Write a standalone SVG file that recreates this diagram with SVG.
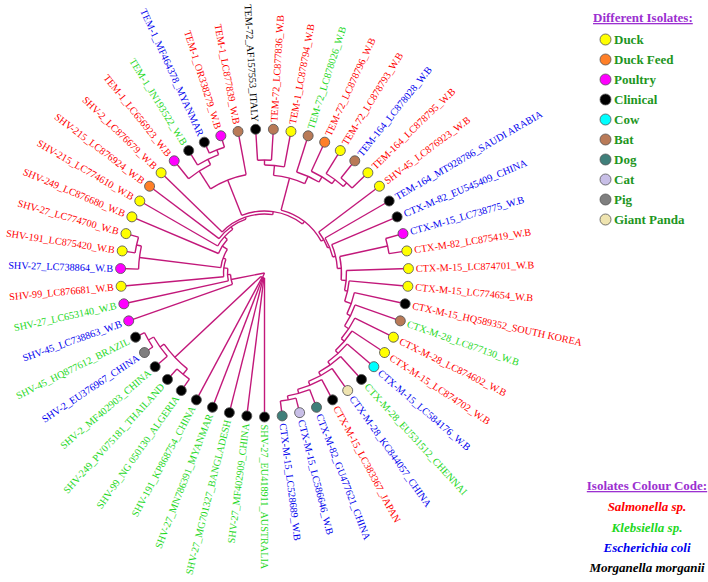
<svg xmlns="http://www.w3.org/2000/svg" width="708" height="582" viewBox="0 0 708 582">
<style>
text{font-family:"Liberation Serif","Times New Roman",serif}
.lb{font-size:10.2px}
.r{fill:#ff0000}.g{fill:#1ed81e}.b{fill:#0000ee}.k{fill:#000}
.br line,.br circle{fill:none;stroke:#c2187a;stroke-width:1.4}
.d{stroke:#555;stroke-width:0.8}
.duck{fill:#ffff00}.feed{fill:#ff7f27}.poul{fill:#ff00ff}.clin{fill:#000}.cow{fill:#00ffff}.bat{fill:#b97a57}.dog{fill:#3f7f7a}.cat{fill:#c8bfe7}.pig{fill:#7f7f7f}.panda{fill:#efe4b0}
.lg{font-size:13px;font-weight:bold;fill:#1e961e}
.tt{font-size:13px;font-weight:bold;fill:#9b30d0;text-decoration:underline}
.it{font-size:13px;font-weight:bold;font-style:italic;text-anchor:middle}
</style>
<rect width="708" height="582" fill="#fff"/>
<g id="connectors" class="br">
<!-- root -->
<line x1="264.5" y1="273" x2="269.5" y2="273" transform="rotate(113.4 264.5 273)"/>
<line x1="264.5" y1="273" x2="298.5" y2="273" transform="rotate(169.01 264.5 273)"/>
<!-- N_A -->
<circle cx="264.5" cy="273" r="5" pathLength="360" stroke-dasharray="46.8 400" transform="rotate(90 264.5 273)"/>
<line x1="269.5" y1="273" x2="408.5" y2="273" transform="rotate(90 264.5 273)"/>
<line x1="269.5" y1="273" x2="408.5" y2="273" transform="rotate(97.059 264.5 273)"/>
<line x1="269.5" y1="273" x2="408.5" y2="273" transform="rotate(104.118 264.5 273)"/>
<line x1="269.5" y1="273" x2="408.5" y2="273" transform="rotate(111.176 264.5 273)"/>
<line x1="269.5" y1="273" x2="408.5" y2="273" transform="rotate(118.235 264.5 273)"/>
<line x1="269.5" y1="273" x2="387.5" y2="273" transform="rotate(136.77 264.5 273)"/>
<!-- N_X -->
<circle cx="264.5" cy="273" r="123" pathLength="360" stroke-dasharray="15.89 400" transform="rotate(128.82 264.5 273)"/>
<line x1="387.5" y1="273" x2="394.5" y2="273" transform="rotate(128.82 264.5 273)"/>
<line x1="387.5" y1="273" x2="392.5" y2="273" transform="rotate(144.71 264.5 273)"/>
<circle cx="264.5" cy="273" r="130" pathLength="360" stroke-dasharray="7.06 400" transform="rotate(125.294 264.5 273)"/>
<line x1="394.5" y1="273" x2="408.5" y2="273" transform="rotate(125.294 264.5 273)"/>
<line x1="394.5" y1="273" x2="408.5" y2="273" transform="rotate(132.353 264.5 273)"/>
<circle cx="264.5" cy="273" r="128" pathLength="360" stroke-dasharray="10.59 400" transform="rotate(139.412 264.5 273)"/>
<line x1="392.5" y1="273" x2="408.5" y2="273" transform="rotate(139.412 264.5 273)"/>
<line x1="392.5" y1="273" x2="398.5" y2="273" transform="rotate(150 264.5 273)"/>
<circle cx="264.5" cy="273" r="134" pathLength="360" stroke-dasharray="7.06 400" transform="rotate(146.471 264.5 273)"/>
<line x1="398.5" y1="273" x2="408.5" y2="273" transform="rotate(146.471 264.5 273)"/>
<line x1="398.5" y1="273" x2="408.5" y2="273" transform="rotate(153.529 264.5 273)"/>
<!-- backbone left -->
<circle cx="264.5" cy="273" r="34" pathLength="360" stroke-dasharray="16.85 400" transform="rotate(160.588 264.5 273)"/>
<line x1="298.5" y1="273" x2="408.5" y2="273" transform="rotate(160.588 264.5 273)"/>
<line x1="298.5" y1="273" x2="301.5" y2="273" transform="rotate(177.44 264.5 273)"/>
<circle cx="264.5" cy="273" r="37" pathLength="360" stroke-dasharray="19.59 400" transform="rotate(167.647 264.5 273)"/>
<line x1="301.5" y1="273" x2="408.5" y2="273" transform="rotate(167.647 264.5 273)"/>
<line x1="301.5" y1="273" x2="305.5" y2="273" transform="rotate(187.24 264.5 273)"/>
<circle cx="264.5" cy="273" r="41" pathLength="360" stroke-dasharray="25.07 400" transform="rotate(174.706 264.5 273)"/>
<line x1="305.5" y1="273" x2="408.5" y2="273" transform="rotate(174.706 264.5 273)"/>
<line x1="305.5" y1="273" x2="308.5" y2="273" transform="rotate(199.78 264.5 273)"/>
<circle cx="264.5" cy="273" r="44" pathLength="360" stroke-dasharray="25.43 400" transform="rotate(187.06 264.5 273)"/>
<line x1="308.5" y1="273" x2="390.5" y2="273" transform="rotate(187.06 264.5 273)"/>
<line x1="308.5" y1="273" x2="314.5" y2="273" transform="rotate(212.49 264.5 273)"/>
<circle cx="264.5" cy="273" r="126" pathLength="360" stroke-dasharray="10.59 400" transform="rotate(181.765 264.5 273)"/>
<line x1="390.5" y1="273" x2="408.5" y2="273" transform="rotate(181.765 264.5 273)"/>
<line x1="390.5" y1="273" x2="395.5" y2="273" transform="rotate(192.35 264.5 273)"/>
<circle cx="264.5" cy="273" r="131" pathLength="360" stroke-dasharray="7.06 400" transform="rotate(188.824 264.5 273)"/>
<line x1="395.5" y1="273" x2="408.5" y2="273" transform="rotate(188.824 264.5 273)"/>
<line x1="395.5" y1="273" x2="408.5" y2="273" transform="rotate(195.882 264.5 273)"/>
<circle cx="264.5" cy="273" r="50" pathLength="360" stroke-dasharray="19.1 400" transform="rotate(202.941 264.5 273)"/>
<line x1="314.5" y1="273" x2="408.5" y2="273" transform="rotate(202.941 264.5 273)"/>
<line x1="314.5" y1="273" x2="318.5" y2="273" transform="rotate(222.04 264.5 273)"/>
<circle cx="264.5" cy="273" r="54" pathLength="360" stroke-dasharray="24.07 400" transform="rotate(210 264.5 273)"/>
<line x1="318.5" y1="273" x2="408.5" y2="273" transform="rotate(210 264.5 273)"/>
<line x1="318.5" y1="273" x2="321.5" y2="273" transform="rotate(234.07 264.5 273)"/>
<circle cx="264.5" cy="273" r="57" pathLength="360" stroke-dasharray="34.02 400" transform="rotate(217.059 264.5 273)"/>
<line x1="321.5" y1="273" x2="408.5" y2="273" transform="rotate(217.059 264.5 273)"/>
<line x1="321.5" y1="273" x2="323.5" y2="273" transform="rotate(251.08 264.5 273)"/>
<circle cx="264.5" cy="273" r="59" pathLength="360" stroke-dasharray="53.93 400" transform="rotate(224.118 264.5 273)"/>
<line x1="323.5" y1="273" x2="408.5" y2="273" transform="rotate(224.118 264.5 273)"/>
<line x1="323.5" y1="273" x2="326.5" y2="273" transform="rotate(278.05 264.5 273)"/>
<!-- N9 + TEM-1 -->
<circle cx="264.5" cy="273" r="62" pathLength="360" stroke-dasharray="59.34 400" transform="rotate(248.38 264.5 273)"/>
<line x1="326.5" y1="273" x2="364.5" y2="273" transform="rotate(248.38 264.5 273)"/>
<line x1="326.5" y1="273" x2="329.5" y2="273" transform="rotate(307.72 264.5 273)"/>
<circle cx="264.5" cy="273" r="100" pathLength="360" stroke-dasharray="22.06 400" transform="rotate(237.35 264.5 273)"/>
<line x1="364.5" y1="273" x2="385.5" y2="273" transform="rotate(237.35 264.5 273)"/>
<line x1="364.5" y1="273" x2="408.5" y2="273" transform="rotate(259.412 264.5 273)"/>
<circle cx="264.5" cy="273" r="121" pathLength="360" stroke-dasharray="12.35 400" transform="rotate(231.176 264.5 273)"/>
<line x1="385.5" y1="273" x2="408.5" y2="273" transform="rotate(231.176 264.5 273)"/>
<line x1="385.5" y1="273" x2="391.5" y2="273" transform="rotate(243.53 264.5 273)"/>
<circle cx="264.5" cy="273" r="127" pathLength="360" stroke-dasharray="10.59 400" transform="rotate(238.235 264.5 273)"/>
<line x1="391.5" y1="273" x2="408.5" y2="273" transform="rotate(238.235 264.5 273)"/>
<line x1="391.5" y1="273" x2="396.5" y2="273" transform="rotate(248.82 264.5 273)"/>
<circle cx="264.5" cy="273" r="132" pathLength="360" stroke-dasharray="7.06 400" transform="rotate(245.294 264.5 273)"/>
<line x1="396.5" y1="273" x2="408.5" y2="273" transform="rotate(245.294 264.5 273)"/>
<line x1="396.5" y1="273" x2="408.5" y2="273" transform="rotate(252.353 264.5 273)"/>
<!-- N10 + TEM-72 -->
<circle cx="264.5" cy="273" r="65" pathLength="360" stroke-dasharray="45.88 400" transform="rotate(284.78 264.5 273)"/>
<line x1="329.5" y1="273" x2="362.5" y2="273" transform="rotate(284.78 264.5 273)"/>
<line x1="329.5" y1="273" x2="332.5" y2="273" transform="rotate(330.66 264.5 273)"/>
<circle cx="264.5" cy="273" r="98" pathLength="360" stroke-dasharray="18.97 400" transform="rotate(275.29 264.5 273)"/>
<line x1="362.5" y1="273" x2="372.5" y2="273" transform="rotate(275.29 264.5 273)"/>
<line x1="362.5" y1="273" x2="370.5" y2="273" transform="rotate(294.26 264.5 273)"/>
<circle cx="264.5" cy="273" r="108" pathLength="360" stroke-dasharray="10.59 400" transform="rotate(270 264.5 273)"/>
<line x1="372.5" y1="273" x2="377.5" y2="273" transform="rotate(270 264.5 273)"/>
<line x1="372.5" y1="273" x2="408.5" y2="273" transform="rotate(280.588 264.5 273)"/>
<circle cx="264.5" cy="273" r="113" pathLength="360" stroke-dasharray="7.06 400" transform="rotate(266.471 264.5 273)"/>
<line x1="377.5" y1="273" x2="408.5" y2="273" transform="rotate(266.471 264.5 273)"/>
<line x1="377.5" y1="273" x2="408.5" y2="273" transform="rotate(273.529 264.5 273)"/>
<circle cx="264.5" cy="273" r="106" pathLength="360" stroke-dasharray="13.23 400" transform="rotate(287.647 264.5 273)"/>
<line x1="370.5" y1="273" x2="408.5" y2="273" transform="rotate(287.647 264.5 273)"/>
<line x1="370.5" y1="273" x2="376.5" y2="273" transform="rotate(300.88 264.5 273)"/>
<circle cx="264.5" cy="273" r="112" pathLength="360" stroke-dasharray="12.35 400" transform="rotate(294.706 264.5 273)"/>
<line x1="376.5" y1="273" x2="408.5" y2="273" transform="rotate(294.706 264.5 273)"/>
<line x1="376.5" y1="273" x2="381.5" y2="273" transform="rotate(307.06 264.5 273)"/>
<circle cx="264.5" cy="273" r="117" pathLength="360" stroke-dasharray="10.59 400" transform="rotate(301.765 264.5 273)"/>
<line x1="381.5" y1="273" x2="408.5" y2="273" transform="rotate(301.765 264.5 273)"/>
<line x1="381.5" y1="273" x2="386.5" y2="273" transform="rotate(312.35 264.5 273)"/>
<circle cx="264.5" cy="273" r="122" pathLength="360" stroke-dasharray="7.06 400" transform="rotate(308.824 264.5 273)"/>
<line x1="386.5" y1="273" x2="408.5" y2="273" transform="rotate(308.824 264.5 273)"/>
<line x1="386.5" y1="273" x2="408.5" y2="273" transform="rotate(315.882 264.5 273)"/>
<!-- backbone right -->
<circle cx="264.5" cy="273" r="68" pathLength="360" stroke-dasharray="15.44 400" transform="rotate(322.941 264.5 273)"/>
<line x1="332.5" y1="273" x2="408.5" y2="273" transform="rotate(322.941 264.5 273)"/>
<line x1="332.5" y1="273" x2="334.5" y2="273" transform="rotate(338.38 264.5 273)"/>
<circle cx="264.5" cy="273" r="70" pathLength="360" stroke-dasharray="16.76 400" transform="rotate(330 264.5 273)"/>
<line x1="334.5" y1="273" x2="408.5" y2="273" transform="rotate(330 264.5 273)"/>
<line x1="334.5" y1="273" x2="337.5" y2="273" transform="rotate(346.76 264.5 273)"/>
<circle cx="264.5" cy="273" r="73" pathLength="360" stroke-dasharray="19.41 400" transform="rotate(337.059 264.5 273)"/>
<line x1="337.5" y1="273" x2="408.5" y2="273" transform="rotate(337.059 264.5 273)"/>
<line x1="337.5" y1="273" x2="341.5" y2="273" transform="rotate(356.47 264.5 273)"/>
<circle cx="264.5" cy="273" r="77" pathLength="360" stroke-dasharray="17.64 400" transform="rotate(347.647 264.5 273)"/>
<line x1="341.5" y1="273" x2="390.5" y2="273" transform="rotate(347.647 264.5 273)"/>
<line x1="341.5" y1="273" x2="346.5" y2="273" transform="rotate(365.29 264.5 273)"/>
<circle cx="264.5" cy="273" r="126" pathLength="360" stroke-dasharray="7.06 400" transform="rotate(344.118 264.5 273)"/>
<line x1="390.5" y1="273" x2="408.5" y2="273" transform="rotate(344.118 264.5 273)"/>
<line x1="390.5" y1="273" x2="408.5" y2="273" transform="rotate(351.176 264.5 273)"/>
<circle cx="264.5" cy="273" r="82" pathLength="360" stroke-dasharray="14.12 400" transform="rotate(358.235 264.5 273)"/>
<line x1="346.5" y1="273" x2="408.5" y2="273" transform="rotate(358.235 264.5 273)"/>
<line x1="346.5" y1="273" x2="349.5" y2="273" transform="rotate(372.35 264.5 273)"/>
<circle cx="264.5" cy="273" r="85" pathLength="360" stroke-dasharray="14.12 400" transform="rotate(365.294 264.5 273)"/>
<line x1="349.5" y1="273" x2="408.5" y2="273" transform="rotate(365.294 264.5 273)"/>
<line x1="349.5" y1="273" x2="356.5" y2="273" transform="rotate(379.41 264.5 273)"/>
<circle cx="264.5" cy="273" r="92" pathLength="360" stroke-dasharray="14.11 400" transform="rotate(372.353 264.5 273)"/>
<line x1="356.5" y1="273" x2="408.5" y2="273" transform="rotate(372.353 264.5 273)"/>
<line x1="356.5" y1="273" x2="360.5" y2="273" transform="rotate(386.46 264.5 273)"/>
<circle cx="264.5" cy="273" r="96" pathLength="360" stroke-dasharray="14.09 400" transform="rotate(379.412 264.5 273)"/>
<line x1="360.5" y1="273" x2="408.5" y2="273" transform="rotate(379.412 264.5 273)"/>
<line x1="360.5" y1="273" x2="365.5" y2="273" transform="rotate(393.5 264.5 273)"/>
<circle cx="264.5" cy="273" r="101" pathLength="360" stroke-dasharray="14.06 400" transform="rotate(386.471 264.5 273)"/>
<line x1="365.5" y1="273" x2="408.5" y2="273" transform="rotate(386.471 264.5 273)"/>
<line x1="365.5" y1="273" x2="369.5" y2="273" transform="rotate(400.53 264.5 273)"/>
<circle cx="264.5" cy="273" r="105" pathLength="360" stroke-dasharray="14 400" transform="rotate(393.529 264.5 273)"/>
<line x1="369.5" y1="273" x2="408.5" y2="273" transform="rotate(393.529 264.5 273)"/>
<line x1="369.5" y1="273" x2="373.5" y2="273" transform="rotate(407.53 264.5 273)"/>
<circle cx="264.5" cy="273" r="109" pathLength="360" stroke-dasharray="13.89 400" transform="rotate(400.588 264.5 273)"/>
<line x1="373.5" y1="273" x2="408.5" y2="273" transform="rotate(400.588 264.5 273)"/>
<line x1="373.5" y1="273" x2="377.5" y2="273" transform="rotate(414.48 264.5 273)"/>
<circle cx="264.5" cy="273" r="113" pathLength="360" stroke-dasharray="13.67 400" transform="rotate(407.647 264.5 273)"/>
<line x1="377.5" y1="273" x2="408.5" y2="273" transform="rotate(407.647 264.5 273)"/>
<line x1="377.5" y1="273" x2="381.5" y2="273" transform="rotate(421.32 264.5 273)"/>
<circle cx="264.5" cy="273" r="117" pathLength="360" stroke-dasharray="13.23 400" transform="rotate(414.706 264.5 273)"/>
<line x1="381.5" y1="273" x2="408.5" y2="273" transform="rotate(414.706 264.5 273)"/>
<line x1="381.5" y1="273" x2="385.5" y2="273" transform="rotate(427.94 264.5 273)"/>
<circle cx="264.5" cy="273" r="121" pathLength="360" stroke-dasharray="12.36 400" transform="rotate(421.765 264.5 273)"/>
<line x1="385.5" y1="273" x2="408.5" y2="273" transform="rotate(421.765 264.5 273)"/>
<line x1="385.5" y1="273" x2="389.5" y2="273" transform="rotate(434.12 264.5 273)"/>
<circle cx="264.5" cy="273" r="125" pathLength="360" stroke-dasharray="10.59 400" transform="rotate(428.824 264.5 273)"/>
<line x1="389.5" y1="273" x2="408.5" y2="273" transform="rotate(428.824 264.5 273)"/>
<line x1="389.5" y1="273" x2="393.5" y2="273" transform="rotate(439.41 264.5 273)"/>
<circle cx="264.5" cy="273" r="129" pathLength="360" stroke-dasharray="7.06 400" transform="rotate(435.882 264.5 273)"/>
<line x1="393.5" y1="273" x2="408.5" y2="273" transform="rotate(435.882 264.5 273)"/>
<line x1="393.5" y1="273" x2="408.5" y2="273" transform="rotate(442.941 264.5 273)"/>
</g>
<g id="leaves" class="lb">
<g id="L1" transform="rotate(90 264.5 273)"><circle class="d clin" cx="408.5" cy="273" r="5"/><text class="g" x="416" y="273" dy=".35em">SHV-27_EU418911_AUSTRALIA</text></g>
<g id="L2" transform="rotate(97.059 264.5 273)"><circle class="d clin" cx="408.5" cy="273" r="5"/><text class="g" x="416" y="273" dy=".35em" text-anchor="end" transform="rotate(180 416 273)">SHV-27_MF402909_CHINA</text></g>
<g id="L3" transform="rotate(104.118 264.5 273)"><circle class="d clin" cx="408.5" cy="273" r="5"/><text class="g" x="416" y="273" dy=".35em" text-anchor="end" transform="rotate(180 416 273)">SHV-27_MG701327_BANGLADESH</text></g>
<g id="L4" transform="rotate(111.176 264.5 273)"><circle class="d clin" cx="408.5" cy="273" r="5"/><text class="g" x="416" y="273" dy=".35em" text-anchor="end" transform="rotate(180 416 273)">SHV-27_MN786391_MYANMAR</text></g>
<g id="L5" transform="rotate(118.235 264.5 273)"><circle class="d clin" cx="408.5" cy="273" r="5"/><text class="g" x="416" y="273" dy=".35em" text-anchor="end" transform="rotate(180 416 273)">SHV-191_KP868754_CHINA</text></g>
<g id="L6" transform="rotate(125.294 264.5 273)"><circle class="d clin" cx="408.5" cy="273" r="5"/><text class="g" x="416" y="273" dy=".35em" text-anchor="end" transform="rotate(180 416 273)">SHV-99_NG 050130_ALGERIA</text></g>
<g id="L7" transform="rotate(132.353 264.5 273)"><circle class="d clin" cx="408.5" cy="273" r="5"/><text class="g" x="416" y="273" dy=".35em" text-anchor="end" transform="rotate(180 416 273)">SHV-249_PV075181_THAILAND</text></g>
<g id="L8" transform="rotate(139.412 264.5 273)"><circle class="d clin" cx="408.5" cy="273" r="5"/><text class="g" x="416" y="273" dy=".35em" text-anchor="end" transform="rotate(180 416 273)">SHV-2_MF402903_CHINA</text></g>
<g id="L9" transform="rotate(146.471 264.5 273)"><circle class="d pig" cx="408.5" cy="273" r="5"/><text class="b" x="416" y="273" dy=".35em" text-anchor="end" transform="rotate(180 416 273)">SHV-2_EU376967_CHINA</text></g>
<g id="L10" transform="rotate(153.529 264.5 273)"><circle class="d clin" cx="408.5" cy="273" r="5"/><text class="g" x="416" y="273" dy=".35em" text-anchor="end" transform="rotate(180 416 273)">SHV-45_HQ877612_BRAZIL</text></g>
<g id="L11" transform="rotate(160.588 264.5 273)"><circle class="d poul" cx="408.5" cy="273" r="5"/><text class="b" x="416" y="273" dy=".35em" text-anchor="end" transform="rotate(180 416 273)">SHV-45_LC738863_W.B</text></g>
<g id="L12" transform="rotate(167.647 264.5 273)"><circle class="d poul" cx="408.5" cy="273" r="5"/><text class="g" x="416" y="273" dy=".35em" text-anchor="end" transform="rotate(180 416 273)">SHV-27_LC653140_W.B</text></g>
<g id="L13" transform="rotate(174.706 264.5 273)"><circle class="d duck" cx="408.5" cy="273" r="5"/><text class="r" x="416" y="273" dy=".35em" text-anchor="end" transform="rotate(180 416 273)">SHV-99_LC876681_W.B</text></g>
<g id="L14" transform="rotate(181.765 264.5 273)"><circle class="d poul" cx="408.5" cy="273" r="5"/><text class="b" x="416" y="273" dy=".35em" text-anchor="end" transform="rotate(180 416 273)">SHV-27_LC738864_W.B</text></g>
<g id="L15" transform="rotate(188.824 264.5 273)"><circle class="d duck" cx="408.5" cy="273" r="5"/><text class="r" x="416" y="273" dy=".35em" text-anchor="end" transform="rotate(180 416 273)">SHV-191_LC875420_W.B</text></g>
<g id="L16" transform="rotate(195.882 264.5 273)"><circle class="d duck" cx="408.5" cy="273" r="5"/><text class="r" x="416" y="273" dy=".35em" text-anchor="end" transform="rotate(180 416 273)">SHV-27_LC774700_W.B</text></g>
<g id="L17" transform="rotate(202.941 264.5 273)"><circle class="d duck" cx="408.5" cy="273" r="5"/><text class="r" x="416" y="273" dy=".35em" text-anchor="end" transform="rotate(180 416 273)">SHV-249_LC876680_W.B</text></g>
<g id="L18" transform="rotate(210 264.5 273)"><circle class="d duck" cx="408.5" cy="273" r="5"/><text class="r" x="416" y="273" dy=".35em" text-anchor="end" transform="rotate(180 416 273)">SHV-215_LC774610_W.B</text></g>
<g id="L19" transform="rotate(217.059 264.5 273)"><circle class="d feed" cx="408.5" cy="273" r="5"/><text class="r" x="416" y="273" dy=".35em" text-anchor="end" transform="rotate(180 416 273)">SHV-215_LC876924_W.B</text></g>
<g id="L20" transform="rotate(224.118 264.5 273)"><circle class="d duck" cx="408.5" cy="273" r="5"/><text class="r" x="416" y="273" dy=".35em" text-anchor="end" transform="rotate(180 416 273)">SHV-2_LC876679_W.B</text></g>
<g id="L21" transform="rotate(231.176 264.5 273)"><circle class="d poul" cx="408.5" cy="273" r="5"/><text class="r" x="416" y="273" dy=".35em" text-anchor="end" transform="rotate(180 416 273)">TEM-1_LC656923_W.B</text></g>
<g id="L22" transform="rotate(238.235 264.5 273)"><circle class="d clin" cx="408.5" cy="273" r="5"/><text class="g" x="416" y="273" dy=".35em" text-anchor="end" transform="rotate(180 416 273)">TEM-1_JN193522_W.B</text></g>
<g id="L23" transform="rotate(245.294 264.5 273)"><circle class="d clin" cx="408.5" cy="273" r="5"/><text class="b" x="416" y="273" dy=".35em" text-anchor="end" transform="rotate(180 416 273)">TEM-1_MF464378_MYANMAR</text></g>
<g id="L24" transform="rotate(252.353 264.5 273)"><circle class="d poul" cx="408.5" cy="273" r="5"/><text class="r" x="416" y="273" dy=".35em" text-anchor="end" transform="rotate(180 416 273)">TEM-1_OR338279_W.B</text></g>
<g id="L25" transform="rotate(259.412 264.5 273)"><circle class="d bat" cx="408.5" cy="273" r="5"/><text class="r" x="416" y="273" dy=".35em" text-anchor="end" transform="rotate(180 416 273)">TEM-1_LC877839_W.B</text></g>
<g id="L26" transform="rotate(266.471 264.5 273)"><circle class="d clin" cx="408.5" cy="273" r="5"/><text class="k" x="416" y="273" dy=".35em" text-anchor="end" transform="rotate(180 416 273)">TEM-72_AF157553_ITALY</text></g>
<g id="L27" transform="rotate(273.529 264.5 273)"><circle class="d bat" cx="408.5" cy="273" r="5"/><text class="r" x="416" y="273" dy=".35em">TEM-72_LC877836_W.B</text></g>
<g id="L28" transform="rotate(280.588 264.5 273)"><circle class="d duck" cx="408.5" cy="273" r="5"/><text class="r" x="416" y="273" dy=".35em">TEM-1_LC878794_W.B</text></g>
<g id="L29" transform="rotate(287.647 264.5 273)"><circle class="d bat" cx="408.5" cy="273" r="5"/><text class="g" x="416" y="273" dy=".35em">TEM-72_LC878026_W.B</text></g>
<g id="L30" transform="rotate(294.706 264.5 273)"><circle class="d feed" cx="408.5" cy="273" r="5"/><text class="r" x="416" y="273" dy=".35em">TEM-72_LC878796_W.B</text></g>
<g id="L31" transform="rotate(301.765 264.5 273)"><circle class="d duck" cx="408.5" cy="273" r="5"/><text class="r" x="416" y="273" dy=".35em">TEM-72_LC878793_W.B</text></g>
<g id="L32" transform="rotate(308.824 264.5 273)"><circle class="d bat" cx="408.5" cy="273" r="5"/><text class="b" x="416" y="273" dy=".35em">TEM-164_LC878028_W.B</text></g>
<g id="L33" transform="rotate(315.882 264.5 273)"><circle class="d duck" cx="408.5" cy="273" r="5"/><text class="r" x="416" y="273" dy=".35em">TEM-164_LC878795_W.B</text></g>
<g id="L34" transform="rotate(322.941 264.5 273)"><circle class="d duck" cx="408.5" cy="273" r="5"/><text class="r" x="416" y="273" dy=".35em">SHV-45_LC876923_W.B</text></g>
<g id="L35" transform="rotate(330 264.5 273)"><circle class="d clin" cx="408.5" cy="273" r="5"/><text class="b" x="416" y="273" dy=".35em">TEM-164_MT928786_SAUDI ARABIA</text></g>
<g id="L36" transform="rotate(337.059 264.5 273)"><circle class="d clin" cx="408.5" cy="273" r="5"/><text class="b" x="416" y="273" dy=".35em">CTX-M-82_EU545409_CHINA</text></g>
<g id="L37" transform="rotate(344.118 264.5 273)"><circle class="d poul" cx="408.5" cy="273" r="5"/><text class="b" x="416" y="273" dy=".35em">CTX-M-15_LC738775_W.B</text></g>
<g id="L38" transform="rotate(351.176 264.5 273)"><circle class="d duck" cx="408.5" cy="273" r="5"/><text class="r" x="416" y="273" dy=".35em">CTX-M-82_LC875419_W.B</text></g>
<g id="L39" transform="rotate(358.235 264.5 273)"><circle class="d duck" cx="408.5" cy="273" r="5"/><text class="r" x="416" y="273" dy=".35em">CTX-M-15_LC874701_W.B</text></g>
<g id="L40" transform="rotate(365.294 264.5 273)"><circle class="d duck" cx="408.5" cy="273" r="5"/><text class="r" x="416" y="273" dy=".35em">CTX-M-15_LC774654_W.B</text></g>
<g id="L41" transform="rotate(372.353 264.5 273)"><circle class="d clin" cx="408.5" cy="273" r="5"/><text class="r" x="416" y="273" dy=".35em">CTX-M-15_HQ589352_SOUTH KOREA</text></g>
<g id="L42" transform="rotate(379.412 264.5 273)"><circle class="d bat" cx="408.5" cy="273" r="5"/><text class="g" x="416" y="273" dy=".35em">CTX-M-28_LC877130_W.B</text></g>
<g id="L43" transform="rotate(386.471 264.5 273)"><circle class="d duck" cx="408.5" cy="273" r="5"/><text class="r" x="416" y="273" dy=".35em">CTX-M-28_LC874602_W.B</text></g>
<g id="L44" transform="rotate(393.529 264.5 273)"><circle class="d duck" cx="408.5" cy="273" r="5"/><text class="r" x="416" y="273" dy=".35em">CTX-M-15_LC874702_W.B</text></g>
<g id="L45" transform="rotate(400.588 264.5 273)"><circle class="d cow" cx="408.5" cy="273" r="5"/><text class="b" x="416" y="273" dy=".35em">CTX-M-15_LC584176_W.B</text></g>
<g id="L46" transform="rotate(407.647 264.5 273)"><circle class="d clin" cx="408.5" cy="273" r="5"/><text class="g" x="416" y="273" dy=".35em">CTX-M-28_EU531512_CHENNAI</text></g>
<g id="L47" transform="rotate(414.706 264.5 273)"><circle class="d panda" cx="408.5" cy="273" r="5"/><text class="b" x="416" y="273" dy=".35em">CTX-M-28_KC844057_CHINA</text></g>
<g id="L48" transform="rotate(421.765 264.5 273)"><circle class="d clin" cx="408.5" cy="273" r="5"/><text class="r" x="416" y="273" dy=".35em">CTX-M-15_LC383367_JAPAN</text></g>
<g id="L49" transform="rotate(428.824 264.5 273)"><circle class="d dog" cx="408.5" cy="273" r="5"/><text class="b" x="416" y="273" dy=".35em">CTX-M-82_GU477621_CHINA</text></g>
<g id="L50" transform="rotate(435.882 264.5 273)"><circle class="d cat" cx="408.5" cy="273" r="5"/><text class="b" x="416" y="273" dy=".35em">CTX-M-15_LC586646_W.B</text></g>
<g id="L51" transform="rotate(442.941 264.5 273)"><circle class="d dog" cx="408.5" cy="273" r="5"/><text class="b" x="416" y="273" dy=".35em">CTX-M-15_LC528689_W.B</text></g>
</g>
<g id="legend-isolates">
<text class="tt" x="593" y="22">Different Isolates:</text>
<circle class="d duck" cx="605.5" cy="39.5" r="5.5"/><text class="lg" x="614" y="44">Duck</text>
<circle class="d feed" cx="605.5" cy="59.5" r="5.5"/><text class="lg" x="614" y="64">Duck Feed</text>
<circle class="d poul" cx="605.5" cy="79.5" r="5.5"/><text class="lg" x="614" y="84">Poultry</text>
<circle class="d clin" cx="605.5" cy="99.5" r="5.5"/><text class="lg" x="614" y="104">Clinical</text>
<circle class="d cow" cx="605.5" cy="119.5" r="5.5"/><text class="lg" x="614" y="124">Cow</text>
<circle class="d bat" cx="605.5" cy="139.5" r="5.5"/><text class="lg" x="614" y="144">Bat</text>
<circle class="d dog" cx="605.5" cy="159.5" r="5.5"/><text class="lg" x="614" y="164">Dog</text>
<circle class="d cat" cx="605.5" cy="179.5" r="5.5"/><text class="lg" x="614" y="184">Cat</text>
<circle class="d pig" cx="605.5" cy="199.5" r="5.5"/><text class="lg" x="614" y="204">Pig</text>
<circle class="d panda" cx="605.5" cy="219.5" r="5.5"/><text class="lg" x="614" y="224">Giant Panda</text>
</g>
<g id="legend-colour">
<text class="tt" x="647" y="490" text-anchor="middle">Isolates Colour Code:</text>
<text class="it r" x="647" y="511">Salmonella sp.</text>
<text class="it g" x="647" y="531.5">Klebsiella sp.</text>
<text class="it b" x="647" y="551.5">Escherichia coli</text>
<text class="it k" x="647" y="571.5">Morganella morganii</text>
</g>
</svg>
